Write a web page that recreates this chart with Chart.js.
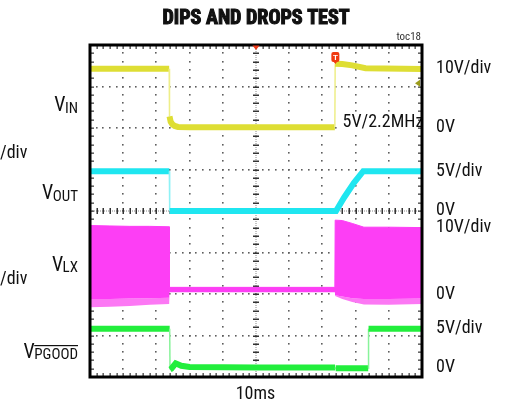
<!DOCTYPE html>
<html><head><meta charset="utf-8">
<script src="https://cdn.jsdelivr.net/npm/chart.js@4/dist/chart.umd.min.js"></script>
<style>html,body{margin:0;padding:0;background:#fff;overflow:hidden}#wrap{width:505px;height:404px;position:relative}</style>
</head><body><div id="wrap"><canvas id="c" width="505" height="404"></canvas></div>
<script>
// ---- Data (time in ms, 10 ms/div; voltages in V) ----
const titleText = 'DIPS AND DROPS TEST';
const figId = 'toc18';
const timeBase = '10ms';
const noteText = '5V/2.2MHz';

// VIN (10V/div)
const vinTime  = [0, 23.85, 23.95, 24.3, 24.8, 25.5, 26.5, 30, 50, 73.75, 73.85, 76, 79, 83, 100];
const vinVolts = [14.3, 14.3, 2.8, 1.5, 0.9, 0.5, 0.25, 0.2, 0.2, 0.2, 15.5, 15.4, 15.1, 14.4, 14.2];

// VOUT (5V/div)
const voutTime  = [0, 23.9, 24.0, 74.1, 76.5, 79.5, 82.3, 100];
const voutVolts = [4.8, 4.8, 0, 0, 1.6, 3.4, 4.8, 4.8];

// VLX (10V/div) switching envelope
const vlxTime = [0, 6, 12, 18, 23.85, 23.95, 50, 73.75, 73.85, 76, 79, 82.5, 90, 100];
const vlxHigh = [16.5, 16.4, 16.3, 16.3, 16.2, 1.6, 1.6, 1.6, 17.8, 17.7, 17.0, 16.1, 16.1, 16.0];
const vlxLow  = [-1.2, -1.2, -1.1, -1.0, -0.9, 0.4, 0.4, 0.4, -0.3, -0.6, -1.0, -1.2, -1.2, -1.1];
const vlxMin  = [-3.2, -3.1, -2.9, -2.6, -2.4, 0.4, 0.4, 0.4, -0.5, -1.2, -1.9, -2.5, -2.6, -2.4];

// VPGOOD (5V/div)
const pgTime  = [0, 24.0, 24.1, 24.5, 25.8, 27.5, 30, 50, 73.8, 74.0, 83.8, 83.9, 100];
const pgVolts = [4.7, 4.7, -0.2, -0.1, 0.55, 0.25, 0.1, 0.05, 0.05, -0.05, -0.05, 4.7, 4.7];

// channel settings: ground position (div from bottom) and volts per division
const channels = {
  vin:  {ground: 6,    vdiv: 10},
  vout: {ground: 4,    vdiv: 5},
  vlx:  {ground: 2,    vdiv: 10},
  pg:   {ground: 0.22, vdiv: 5}
};
// right-hand scale labels: [text, channel, volts]
const rightLabels = [
  ['10V/div','vin',14.3], ['0V','vin',0.1],
  ['5V/div','vout',4.8], ['0V','vout',0.1],
  ['10V/div','vlx',16.0], ['0V','vlx',0],
  ['5V/div','pg',4.7], ['0V','pg',0]
];
const triggerTime = 73.9;
const triggerLevel = 10.8; // V on VIN channel

function toPts(ts, vs, ch){ const c = channels[ch]; return ts.map((t,i)=>({x:t, y:c.ground + vs[i]/c.vdiv})); }

const NARROW = '"Liberation Sans Narrow","Roboto Condensed","DejaVu Sans Condensed",sans-serif';

function edgeSeg(thick, thin, col, pale){
  return {
    borderWidth: ctx => Math.abs(ctx.p1.x - ctx.p0.x) < 1 ? thin : thick,
    borderColor: ctx => Math.abs(ctx.p1.x - ctx.p0.x) < 1 ? pale : col
  };
}

const gridPlugin = {
  id: 'scopeGrid',
  beforeDatasetsDraw(chart){
    const {ctx, chartArea:a, scales:{x, y}} = chart;
    ctx.save();
    ctx.fillStyle = '#5e5e5e';
    for (let i = 1; i < 10; i++){
      if (i === 5) continue;
      const px = Math.round(x.getPixelForValue(i*10));
      for (let k = 1; k < 40; k++){
        const py = Math.round(y.getPixelForValue(k*0.2));
        ctx.fillRect(px-1, py-1, 1.6, 1.6);
      }
    }
    for (let j = 1; j < 8; j++){
      if (j === 4) continue;
      const py = Math.round(y.getPixelForValue(j));
      for (let k = 1; k < 50; k++){
        const px = Math.round(x.getPixelForValue(k*2));
        ctx.fillRect(px-1, py-1, 1.6, 1.6);
      }
    }
    // center cross with ticks
    const cx = Math.round(x.getPixelForValue(50)), cy = Math.round(y.getPixelForValue(4));
    ctx.fillStyle = '#888';
    for (let py = a.top; py < a.bottom; py += 2) ctx.fillRect(cx-0.5, py, 1, 1);
    for (let px = a.left; px < a.right; px += 2) ctx.fillRect(px, cy-0.5, 1, 1);
    ctx.fillStyle = '#333';
    for (let k = 1; k < 40; k++){
      const py = Math.round(y.getPixelForValue(k*0.2));
      ctx.fillRect(cx-3, py-0.5, 6, 1.5);
    }
    for (let k = 1; k < 50; k++){
      const px = Math.round(x.getPixelForValue(k*2));
      ctx.fillRect(px-0.5, cy-3, 1.5, 6);
    }
    // border ticks
    ctx.fillStyle = '#444';
    for (let k = 1; k < 50; k++){
      const px = Math.round(x.getPixelForValue(k*2));
      ctx.fillRect(px-0.5, a.top+1, 1.3, 3);
      ctx.fillRect(px-0.5, a.bottom-4, 1.3, 3);
    }
    for (let k = 1; k < 40; k++){
      const py = Math.round(y.getPixelForValue(k*0.2));
      ctx.fillRect(a.left+1, py-0.5, 3, 1.3);
      ctx.fillRect(a.right-4, py-0.5, 3, 1.3);
    }
    ctx.restore();
  },
  afterDatasetsDraw(chart){
    const {ctx, chartArea:a, scales:{x, y}} = chart;
    ctx.save();
    // note box
    ctx.fillStyle = '#fff';
    ctx.fillRect(340, 112, 78, 19);
    ctx.fillStyle = '#111';
    ctx.font = '18px ' + NARROW;
    ctx.textBaseline = 'middle';
    ctx.textAlign = 'left';
    ctx.fillText(noteText, 342.5, 122.5);
    // frame
    ctx.strokeStyle = '#000';
    ctx.lineWidth = 3;
    ctx.strokeRect(a.left, a.top, a.right - a.left, a.bottom - a.top);
    // top center marker
    const cx = x.getPixelForValue(50);
    ctx.fillStyle = '#ee3b1a';
    ctx.beginPath(); ctx.moveTo(cx-3.5, a.top+0.5); ctx.lineTo(cx+3.5, a.top+0.5); ctx.lineTo(cx, a.top+5); ctx.closePath(); ctx.fill();
    // trigger "T" marker
    const tx = x.getPixelForValue(triggerTime);
    ctx.fillStyle = '#f03a10';
    ctx.beginPath();
    if (ctx.roundRect) ctx.roundRect(tx-4, 52, 8, 10, 2); else ctx.rect(tx-4, 52, 8, 10);
    ctx.fill();
    ctx.beginPath(); ctx.moveTo(tx-2, 61.5); ctx.lineTo(tx+2, 61.5); ctx.lineTo(tx, 64); ctx.closePath(); ctx.fill();
    ctx.fillStyle = '#fff';
    ctx.font = 'bold 8px "Liberation Sans",sans-serif';
    ctx.textAlign = 'center';
    ctx.fillText('T', tx, 57.5);
    // trigger level arrow
    const ly = y.getPixelForValue(channels.vin.ground + triggerLevel / channels.vin.vdiv);
    ctx.fillStyle = '#9c9c1c';
    ctx.beginPath(); ctx.moveTo(a.right-7, ly); ctx.lineTo(a.right-2, ly-3.5); ctx.lineTo(a.right-2, ly+3.5); ctx.closePath(); ctx.fill();
    ctx.restore();
  },
  afterDraw(chart){
    const {ctx, scales:{y}} = chart;
    ctx.save();
    ctx.fillStyle = '#111';
    // title
    ctx.font = 'bold 20px ' + NARROW;
    ctx.textAlign = 'center';
    ctx.textBaseline = 'middle';
    ctx.strokeStyle = '#111'; ctx.lineWidth = 1.1;
    ctx.fillText(titleText, 256, 19);
    ctx.strokeText(titleText, 256, 19);
    // fig id
    ctx.font = '11px ' + NARROW;
    ctx.textAlign = 'right';
    ctx.fillStyle = '#333';
    ctx.fillText(figId, 421, 37);
    // right labels
    ctx.fillStyle = '#111';
    ctx.font = '18px ' + NARROW;
    ctx.textAlign = 'left';
    rightLabels.forEach(([t, ch, v]) => {
      const c = channels[ch];
      ctx.fillText(t, 436, y.getPixelForValue(c.ground + v / c.vdiv));
    });
    // cut-off labels at left edge
    ctx.fillText('/div', 0, 153.5);
    ctx.fillText('/div', 0, 279);
    // time base
    ctx.textAlign = 'center';
    ctx.fillText(timeBase, 255.5, 394.5);
    // channel names with subscripts
    const names = [['IN', 111, false], ['OUT', 199, false], ['LX', 270.5, false], ['PGOOD', 357.5, true]];
    ctx.textBaseline = 'alphabetic';
    ctx.textAlign = 'left';
    names.forEach(([sub, base, over]) => {
      ctx.font = '15px ' + NARROW;
      const sw = ctx.measureText(sub).width;
      const sx = 78 - sw;
      ctx.fillText(sub, sx, base + 1.7);
      ctx.font = '20px ' + NARROW;
      const vw = ctx.measureText('V').width;
      ctx.fillText('V', sx - vw + 0.5, base);
      if (over){ ctx.fillRect(sx, base - 12.5, sw, 1.2); }
    });
    ctx.restore();
  }
};

new Chart(document.getElementById('c'), {
  type: 'line',
  data: {
    datasets: [
      { label: 'VLX high', data: toPts(vlxTime, vlxHigh, 'vlx'), borderColor: '#fd3ef5', backgroundColor: '#fd3ef5', borderWidth: 1, pointRadius: 0, fill: '+1' },
      { label: 'VLX low', data: toPts(vlxTime, vlxLow, 'vlx'), borderColor: 'rgba(0,0,0,0)', backgroundColor: '#fc78f4', borderWidth: 0, pointRadius: 0, fill: '+1' },
      { label: 'VLX min', data: toPts(vlxTime, vlxMin, 'vlx'), borderColor: 'rgba(0,0,0,0)', borderWidth: 0, pointRadius: 0, fill: false },
      { label: 'VIN', data: toPts(vinTime, vinVolts, 'vin'), borderColor: '#dede34', borderWidth: 6, pointRadius: 0, fill: false,
        segment: edgeSeg(6, 1.5, '#dede34', '#eeee88') },
      { label: 'VOUT', data: toPts(voutTime, voutVolts, 'vout'), borderColor: '#1fe6f0', borderWidth: 6, pointRadius: 0, fill: false,
        segment: edgeSeg(6, 1.5, '#1fe6f0', '#8ef2f6') },
      { label: 'VPGOOD', data: toPts(pgTime, pgVolts, 'pg'), borderColor: '#22ee3c', borderWidth: 6, pointRadius: 0, fill: false,
        segment: edgeSeg(6, 1.5, '#22ee3c', '#88f39a') }
    ]
  },
  options: {
    responsive: false, animation: false, devicePixelRatio: 1,
    layout: { padding: { left: 90, right: 83, top: 45, bottom: 27 } },
    scales: {
      x: { type: 'linear', min: 0, max: 100, display: false },
      y: { type: 'linear', min: 0, max: 8, display: false }
    },
    plugins: { legend: { display: false }, tooltip: { enabled: false }, title: { display: false } },
    elements: { line: { tension: 0, borderCapStyle: 'butt', borderJoinStyle: 'miter' } }
  },
  plugins: [gridPlugin]
});
</script>
</body></html>
